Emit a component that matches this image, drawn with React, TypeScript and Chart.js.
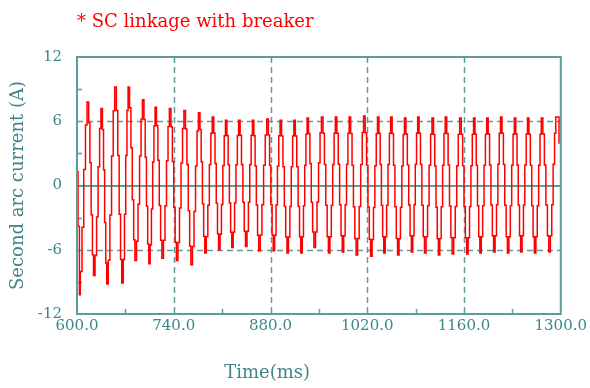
import { useEffect, useRef } from 'react';
import { Chart, registerables } from 'chart.js';

Chart.register(...registerables);

// ---- data ----
const chartTitle = '* SC linkage with breaker';
const xTitle = 'Time(ms)';
const yTitle = 'Second arc current (A)';

const xMajorTicks = [600, 740, 880, 1020, 1160, 1300];
const xMinorTicks = [670, 810, 950, 1090, 1230];
const yMajorTicks = [-12, -6, 0, 6, 12];
const yMinorTicks = [-9, -3, 3, 9];

// start of the trace and its end
const leadTimes = [600, 601.5];
const leadValues = [1.3, -3.8];
const tailTimes = [1297.5];
const tailValues = [3.9];

// positive peaks
const posTimes = [616, 636, 656, 675, 696, 714, 735, 756, 777, 797, 816, 835, 855, 876, 895, 915, 934, 955, 975, 995, 1016, 1036, 1055, 1075, 1094, 1115, 1134, 1155, 1175, 1194, 1214, 1234, 1253, 1273, 1294];
const posValues = [7.8, 7.2, 9.2, 9.2, 8.0, 7.3, 7.2, 7.0, 6.8, 6.4, 6.1, 6.1, 6.1, 6.2, 6.1, 6.1, 6.3, 6.4, 6.4, 6.4, 6.5, 6.4, 6.4, 6.3, 6.4, 6.3, 6.4, 6.3, 6.3, 6.3, 6.4, 6.3, 6.3, 6.3, 6.4];

// negative peaks
const negTimes = [603.5, 625, 644, 666, 685, 705, 724, 745, 766, 786, 806, 825, 845, 864, 885, 905, 925, 944, 965, 985, 1005, 1026, 1045, 1065, 1085, 1104, 1124, 1144, 1165, 1184, 1204, 1224, 1243, 1263, 1284];
const negValues = [-10.2, -8.4, -9.2, -9.1, -7.0, -7.3, -6.8, -7.0, -7.4, -6.3, -6.0, -5.8, -5.7, -6.1, -6.1, -6.3, -6.3, -5.8, -6.3, -6.2, -6.5, -6.6, -6.3, -6.5, -6.2, -6.3, -6.5, -6.4, -6.4, -6.3, -6.2, -6.3, -6.2, -6.3, -6.2];

// staircase shape of one half-cycle (fraction of time, fraction of swing)
const stepTimeFrac = [0.1, 0.3, 0.5, 0.7, 0.88];
const stepLevelFrac = [0.12, 0.35, 0.65, 0.88, 1];

const AXIS = '#5e9c9c';
const TEXT = '#3f8686';
const FONT = '"DejaVu Serif", serif';

function buildPoints() {
  const pts: { x: number; y: number }[] = [];
  leadTimes.forEach((t, i) => pts.push({ x: t, y: leadValues[i] }));
  const ext: { t: number; v: number }[] = [];
  posTimes.forEach((t, i) => ext.push({ t, v: posValues[i] }));
  negTimes.forEach((t, i) => ext.push({ t, v: negValues[i] }));
  ext.sort((a, b) => a.t - b.t);
  for (let i = 0; i < ext.length; i++) {
    const a = ext[i];
    pts.push({ x: a.t, y: a.v });
    const b = ext[i + 1];
    if (!b) break;
    const d = b.t - a.t;
    for (let k = 0; k < stepTimeFrac.length; k++) {
      pts.push({ x: a.t + d * stepTimeFrac[k], y: a.v + (b.v - a.v) * stepLevelFrac[k] });
    }
  }
  tailTimes.forEach((t, i) => pts.push({ x: t, y: tailValues[i] }));
  return pts;
}

const framePlugin = {
  id: 'frame',
  beforeDatasetsDraw(chart: any) {
    const { ctx, chartArea: a, scales } = chart;
    const x = scales.x;
    const y = scales.y;
    ctx.save();
    ctx.strokeStyle = AXIS;
    // dashed grid
    ctx.lineWidth = 1.5;
    ctx.setLineDash([6, 4]);
    xMajorTicks.slice(1, -1).forEach((v) => {
      const px = Math.round(x.getPixelForValue(v)) + 0.5;
      ctx.beginPath();
      ctx.moveTo(px, a.top);
      ctx.lineTo(px, a.bottom);
      ctx.stroke();
    });
    [-6, 6].forEach((v) => {
      const py = Math.round(y.getPixelForValue(v)) + 0.5;
      ctx.beginPath();
      ctx.moveTo(a.left, py);
      ctx.lineTo(a.right, py);
      ctx.stroke();
    });
    ctx.setLineDash([]);
    // zero line
    ctx.lineWidth = 2;
    const p0 = Math.round(y.getPixelForValue(0));
    ctx.beginPath();
    ctx.moveTo(a.left, p0);
    ctx.lineTo(a.right, p0);
    ctx.stroke();
    // minor ticks
    ctx.lineWidth = 1.5;
    xMinorTicks.forEach((v) => {
      const px = Math.round(x.getPixelForValue(v)) + 0.5;
      ctx.beginPath();
      ctx.moveTo(px, a.bottom);
      ctx.lineTo(px, a.bottom - 5);
      ctx.stroke();
    });
    yMinorTicks.forEach((v) => {
      const py = Math.round(y.getPixelForValue(v)) + 0.5;
      ctx.beginPath();
      ctx.moveTo(a.left, py);
      ctx.lineTo(a.left + 5, py);
      ctx.stroke();
    });
    ctx.restore();
  },
  afterDatasetsDraw(chart: any) {
    const { ctx, chartArea: a } = chart;
    ctx.save();
    ctx.strokeStyle = AXIS;
    ctx.lineWidth = 2;
    ctx.strokeRect(a.left, a.top, a.right - a.left, a.bottom - a.top);
    // texts
    ctx.font = '18px ' + FONT;
    ctx.fillStyle = '#ff0000';
    ctx.textAlign = 'left';
    ctx.textBaseline = 'alphabetic';
    ctx.fillText(chartTitle, 77, 27);
    ctx.fillStyle = TEXT;
    ctx.textAlign = 'center';
    ctx.fillText(xTitle, a.left + (a.right - a.left) * 0.393, 378);
    ctx.translate(18.5, (a.top + a.bottom) / 2);
    ctx.rotate(-Math.PI / 2);
    ctx.textBaseline = 'middle';
    ctx.fillText(yTitle, 0, 0);
    ctx.restore();
  },
};

export default function App() {
  const ref = useRef<HTMLCanvasElement>(null);
  useEffect(() => {
    const chart = new Chart(ref.current as HTMLCanvasElement, {
      type: 'line',
      data: {
        datasets: [
          {
            data: buildPoints(),
            borderColor: '#ff0000',
            borderWidth: 1.5,
            pointRadius: 0,
            stepped: true,
            fill: false,
          },
        ],
      },
      options: {
        animation: false,
        responsive: false,
        maintainAspectRatio: false,
        layout: { padding: { top: 57, right: 28, left: 0, bottom: 0 } },
        plugins: { legend: { display: false }, tooltip: { enabled: false }, title: { display: false } },
        scales: {
          x: {
            type: 'linear',
            min: 600,
            max: 1300,
            afterBuildTicks: (s: any) => {
              s.ticks = xMajorTicks.map((v) => ({ value: v }));
            },
            ticks: {
              autoSkip: false,
              maxRotation: 0,
              color: TEXT,
              font: { family: FONT, size: 15 },
              padding: 3,
              callback: (v: any) => Number(v).toFixed(1),
            },
            grid: { display: false, drawTicks: false },
            border: { display: false },
            afterFit: (s: any) => {
              s.height = 74;
            },
          },
          y: {
            min: -12,
            max: 12,
            afterBuildTicks: (s: any) => {
              s.ticks = yMajorTicks.map((v) => ({ value: v }));
            },
            ticks: {
              color: TEXT,
              font: { family: FONT, size: 15 },
              padding: 15,
              callback: (v: any) => String(v),
            },
            grid: { display: false, drawTicks: false },
            border: { display: false },
            afterFit: (s: any) => {
              s.width = 77;
            },
          },
        },
      },
      plugins: [framePlugin],
    });
    return () => chart.destroy();
  }, []);
  return (
    <div style={{ position: 'absolute', left: 0, top: 0, width: 590, height: 388, background: '#fff' }}>
      <canvas ref={ref} width={590} height={388} style={{ display: 'block' }} />
    </div>
  );
}
